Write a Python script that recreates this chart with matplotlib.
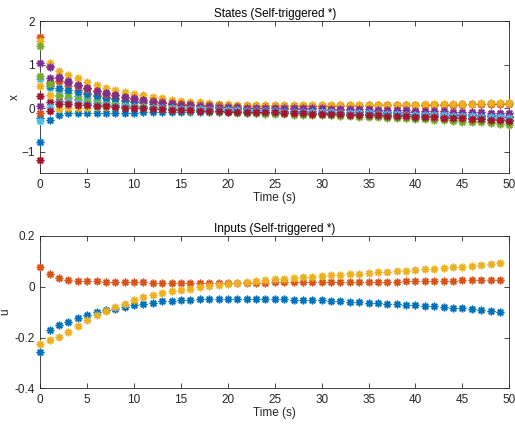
import matplotlib
matplotlib.use("Agg")
import matplotlib.pyplot as plt
import numpy as np

plt.rcParams['font.family'] = ['Liberation Sans', 'DejaVu Sans']

colors = ['#0072BD', '#D95319', '#EDB120', '#7E2F8E', '#77AC30', '#4DBEEE', '#A2142F']

t_states = list(range(0, 51))
t_inputs = list(range(0, 50))

x0 = [-0.78, -0.28, -0.15, -0.12, -0.11, -0.11, -0.11, -0.11, -0.11, -0.11, -0.11, -0.1, -0.1, -0.1, -0.1, -0.1, -0.1, -0.1, -0.1, -0.1, -0.1, -0.1, -0.11, -0.11, -0.11, -0.11, -0.11, -0.12, -0.12, -0.12, -0.12, -0.13, -0.13, -0.13, -0.14, -0.14, -0.14, -0.15, -0.15, -0.16, -0.16, -0.17, -0.17, -0.18, -0.18, -0.19, -0.19, -0.2, -0.2, -0.21, -0.21]
x1 = [1.64, 0.97, 0.63, 0.5, 0.41, 0.35, 0.3, 0.26, 0.22, 0.19, 0.17, 0.15, 0.13, 0.11, 0.1, 0.09, 0.08, 0.07, 0.06, 0.06, 0.05, 0.05, 0.05, 0.05, 0.05, 0.05, 0.05, 0.05, 0.05, 0.05, 0.05, 0.05, 0.06, 0.06, 0.06, 0.06, 0.06, 0.06, 0.07, 0.07, 0.07, 0.07, 0.08, 0.08, 0.08, 0.08, 0.09, 0.09, 0.09, 0.1, 0.1]
x2 = [1.54, 1.03, 0.86, 0.76, 0.68, 0.6, 0.53, 0.47, 0.42, 0.37, 0.33, 0.29, 0.25, 0.22, 0.19, 0.17, 0.15, 0.13, 0.11, 0.1, 0.09, 0.08, 0.07, 0.07, 0.06, 0.06, 0.06, 0.06, 0.06, 0.06, 0.06, 0.06, 0.06, 0.07, 0.07, 0.07, 0.07, 0.07, 0.08, 0.08, 0.08, 0.08, 0.09, 0.09, 0.09, 0.1, 0.1, 0.1, 0.11, 0.11, 0.12]
x3 = [1.04, 0.95, 0.72, 0.61, 0.53, 0.46, 0.4, 0.35, 0.3, 0.26, 0.22, 0.19, 0.16, 0.13, 0.11, 0.09, 0.07, 0.05, 0.04, 0.03, 0.02, 0.01, 0.0, 0.0, -0.01, -0.01, -0.02, -0.02, -0.03, -0.03, -0.04, -0.04, -0.05, -0.05, -0.06, -0.07, -0.07, -0.08, -0.09, -0.09, -0.1, -0.11, -0.11, -0.12, -0.13, -0.14, -0.14, -0.15, -0.16, -0.17, -0.18]
x4 = [1.42, 0.58, 0.41, 0.34, 0.28, 0.23, 0.19, 0.15, 0.12, 0.09, 0.07, 0.05, 0.03, 0.01, 0.0, -0.02, -0.03, -0.04, -0.05, -0.06, -0.07, -0.08, -0.09, -0.1, -0.1, -0.11, -0.12, -0.12, -0.13, -0.14, -0.14, -0.15, -0.16, -0.17, -0.17, -0.18, -0.19, -0.2, -0.21, -0.22, -0.23, -0.24, -0.25, -0.26, -0.27, -0.28, -0.29, -0.3, -0.31, -0.32, -0.34]
x5 = [0.67, 0.45, 0.3, 0.24, 0.2, 0.16, 0.13, 0.1, 0.08, 0.06, 0.04, 0.03, 0.02, 0.01, 0.0, -0.01, -0.02, -0.03, -0.04, -0.05, -0.05, -0.06, -0.07, -0.07, -0.08, -0.08, -0.09, -0.1, -0.1, -0.11, -0.11, -0.12, -0.13, -0.13, -0.14, -0.15, -0.15, -0.16, -0.17, -0.18, -0.19, -0.19, -0.2, -0.21, -0.22, -0.23, -0.24, -0.25, -0.26, -0.27, -0.28]
x6 = [0.28, 0.15, 0.16, 0.14, 0.12, 0.1, 0.08, 0.06, 0.05, 0.03, 0.02, 0.01, 0.0, -0.01, -0.02, -0.03, -0.04, -0.04, -0.05, -0.06, -0.06, -0.07, -0.07, -0.08, -0.08, -0.09, -0.09, -0.1, -0.1, -0.11, -0.11, -0.12, -0.12, -0.13, -0.14, -0.14, -0.15, -0.16, -0.16, -0.17, -0.18, -0.19, -0.19, -0.2, -0.21, -0.22, -0.23, -0.24, -0.25, -0.26, -0.27]
x7 = [-0.22, 0.5, 0.46, 0.42, 0.37, 0.32, 0.28, 0.24, 0.2, 0.17, 0.14, 0.12, 0.09, 0.07, 0.05, 0.04, 0.02, 0.01, 0.0, -0.01, -0.02, -0.03, -0.03, -0.04, -0.05, -0.05, -0.06, -0.06, -0.07, -0.07, -0.08, -0.08, -0.09, -0.09, -0.1, -0.1, -0.11, -0.12, -0.12, -0.13, -0.13, -0.14, -0.15, -0.15, -0.16, -0.17, -0.17, -0.18, -0.19, -0.2, -0.2]
x8 = [-0.12, 0.6, 0.62, 0.57, 0.5, 0.44, 0.38, 0.33, 0.29, 0.25, 0.22, 0.19, 0.16, 0.14, 0.12, 0.1, 0.09, 0.08, 0.07, 0.06, 0.05, 0.05, 0.04, 0.04, 0.04, 0.04, 0.04, 0.04, 0.04, 0.04, 0.05, 0.05, 0.05, 0.05, 0.05, 0.06, 0.06, 0.06, 0.06, 0.07, 0.07, 0.07, 0.08, 0.08, 0.08, 0.09, 0.09, 0.09, 0.1, 0.1, 0.11]
x9 = [0.5, 0.3, -0.02, 0.0, 0.0, 0.01, 0.02, 0.02, 0.03, 0.03, 0.03, 0.04, 0.04, 0.04, 0.04, 0.04, 0.05, 0.05, 0.05, 0.05, 0.05, 0.05, 0.05, 0.05, 0.05, 0.05, 0.05, 0.05, 0.06, 0.06, 0.06, 0.06, 0.06, 0.06, 0.07, 0.07, 0.07, 0.07, 0.08, 0.08, 0.08, 0.09, 0.09, 0.09, 0.1, 0.1, 0.1, 0.11, 0.11, 0.12, 0.12]
x10 = [0.05, 0.7, 0.68, 0.6, 0.52, 0.45, 0.39, 0.34, 0.29, 0.25, 0.21, 0.18, 0.15, 0.12, 0.1, 0.08, 0.07, 0.05, 0.04, 0.03, 0.02, 0.02, 0.01, 0.01, 0.0, 0.0, 0.0, 0.0, -0.01, -0.01, -0.01, -0.02, -0.02, -0.02, -0.03, -0.03, -0.04, -0.04, -0.05, -0.05, -0.06, -0.06, -0.07, -0.07, -0.08, -0.09, -0.09, -0.1, -0.11, -0.11, -0.12]
x11 = [0.73, 0.55, 0.27, 0.22, 0.18, 0.14, 0.11, 0.08, 0.06, 0.04, 0.02, 0.0, -0.01, -0.02, -0.04, -0.05, -0.06, -0.07, -0.08, -0.09, -0.1, -0.11, -0.11, -0.12, -0.13, -0.13, -0.14, -0.15, -0.15, -0.16, -0.17, -0.17, -0.18, -0.19, -0.2, -0.21, -0.21, -0.22, -0.23, -0.24, -0.25, -0.26, -0.27, -0.28, -0.29, -0.31, -0.32, -0.33, -0.35, -0.36, -0.38]
x12 = [-0.3, 0.02, 0.12, 0.13, 0.12, 0.1, 0.08, 0.07, 0.05, 0.04, 0.03, 0.02, 0.01, 0.0, -0.01, -0.02, -0.02, -0.03, -0.04, -0.04, -0.05, -0.05, -0.06, -0.06, -0.07, -0.07, -0.08, -0.08, -0.09, -0.09, -0.1, -0.1, -0.11, -0.11, -0.12, -0.12, -0.13, -0.13, -0.14, -0.15, -0.15, -0.16, -0.16, -0.17, -0.18, -0.18, -0.19, -0.2, -0.2, -0.21, -0.22]
x13 = [-1.2, -0.07, 0.1, 0.1, 0.08, 0.07, 0.05, 0.04, 0.02, 0.01, 0.0, -0.01, -0.02, -0.03, -0.04, -0.04, -0.05, -0.06, -0.06, -0.07, -0.08, -0.08, -0.09, -0.09, -0.1, -0.1, -0.11, -0.11, -0.12, -0.13, -0.13, -0.14, -0.14, -0.15, -0.16, -0.16, -0.17, -0.18, -0.18, -0.19, -0.2, -0.21, -0.21, -0.22, -0.23, -0.24, -0.25, -0.26, -0.27, -0.28, -0.29]
states = [x0, x1, x2, x3, x4, x5, x6, x7, x8, x9, x10, x11, x12, x13]

u0 = [-0.256, -0.17, -0.15, -0.137, -0.125, -0.113, -0.10, -0.092, -0.086, -0.079, -0.072, -0.066, -0.062, -0.058, -0.055, -0.053, -0.051, -0.049, -0.048, -0.047, -0.047, -0.047, -0.047, -0.048, -0.048, -0.049, -0.050, -0.051, -0.052, -0.053, -0.054, -0.056, -0.057, -0.059, -0.060, -0.062, -0.064, -0.066, -0.068, -0.070, -0.072, -0.075, -0.077, -0.080, -0.082, -0.085, -0.088, -0.091, -0.094, -0.098]
u1 = [0.076, 0.050, 0.034, 0.028, 0.024, 0.022, 0.021, 0.020, 0.019, 0.018, 0.017, 0.017, 0.016, 0.016, 0.016, 0.015, 0.015, 0.015, 0.015, 0.015, 0.015, 0.016, 0.016, 0.016, 0.016, 0.017, 0.017, 0.017, 0.017, 0.018, 0.018, 0.018, 0.018, 0.019, 0.019, 0.019, 0.019, 0.020, 0.020, 0.021, 0.021, 0.022, 0.022, 0.023, 0.024, 0.025, 0.026, 0.026, 0.027, 0.028]
u2 = [-0.224, -0.21, -0.198, -0.177, -0.153, -0.132, -0.112, -0.095, -0.079, -0.066, -0.053, -0.042, -0.033, -0.024, -0.017, -0.011, -0.007, -0.001, 0.003, 0.007, 0.011, 0.015, 0.019, 0.023, 0.026, 0.029, 0.032, 0.035, 0.038, 0.040, 0.042, 0.045, 0.047, 0.050, 0.052, 0.055, 0.057, 0.059, 0.062, 0.064, 0.066, 0.069, 0.071, 0.073, 0.076, 0.079, 0.082, 0.085, 0.089, 0.094]
inputs = [u0, u1, u2]

fig = plt.figure(figsize=(5.15, 4.32), dpi=100)
ax1 = fig.add_axes([40.3/515, 1 - 173.3/432, (509.3 - 40.3)/515, (173.3 - 21)/432])
ax2 = fig.add_axes([40.3/515, 1 - 388.3/432, (509.3 - 40.3)/515, (388.3 - 236)/432])

asterisk = (8, 2, 0)

def draw(ax, t, series):
    for i, s in enumerate(series):
        c = colors[i % 7]
        ax.plot(t, s, linestyle='none', marker='o', markersize=5.5, color=c,
                markeredgecolor='none', alpha=0.35, clip_on=False, zorder=3)
        ax.plot(t, s, linestyle='none', marker=asterisk, markersize=5.5, color=c,
                markeredgewidth=0.9, clip_on=False, zorder=3)

draw(ax1, t_states, states)
draw(ax2, t_inputs, inputs)

fs = 8.5
for ax in (ax1, ax2):
    ax.set_xlim(0, 50)
    ax.set_xticks(range(0, 51, 5))
    ax.tick_params(direction='in', top=True, right=True, length=3.5, width=0.6,
                   labelsize=fs, colors='#262626', pad=4)
    for sp in ax.spines.values():
        sp.set_linewidth(0.6)
        sp.set_color('#262626')
        sp.set_zorder(2)
    ax.set_xlabel('Time (s)', fontsize=fs, color='#262626', labelpad=1)

ax1.set_ylim(-1.5, 2)
ax1.set_yticks([-1, 0, 1, 2])
ax1.set_ylabel('x', fontsize=fs, color='#262626', labelpad=0.5)
ax1.set_title('States (Self-triggered *)', fontsize=fs, color='#000000', pad=3)

ax2.set_ylim(-0.4, 0.2)
ax2.set_yticks([-0.4, -0.2, 0, 0.2])
ax2.set_yticklabels(['-0.4', '-0.2', '0', '0.2'])
ax2.set_ylabel('u', fontsize=fs, color='#262626', labelpad=2)
ax2.set_title('Inputs (Self-triggered *)', fontsize=fs, color='#000000', pad=3)

fig.savefig('out.png', dpi=100)
